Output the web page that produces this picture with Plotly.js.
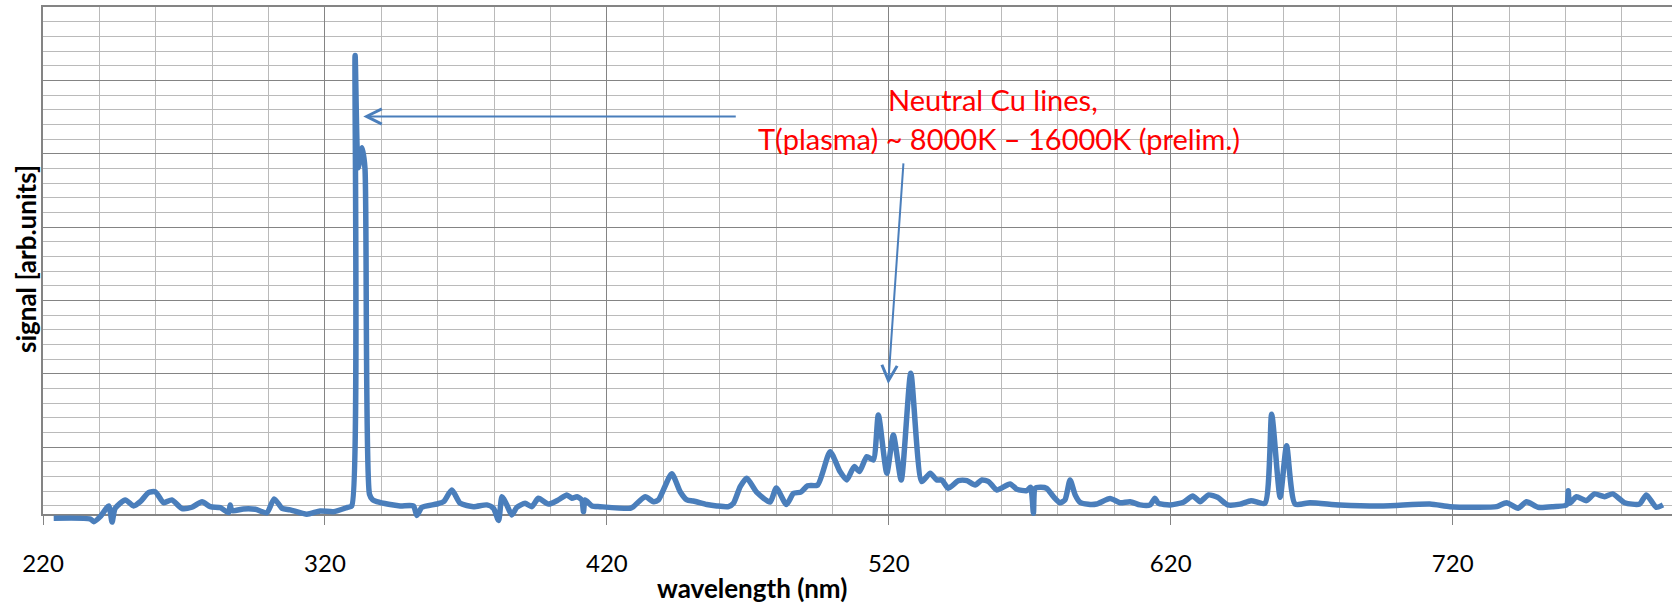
<!DOCTYPE html>
<html>
<head>
<meta charset="utf-8">
<script src="https://cdn.plot.ly/plotly-3.0.1.min.js"></script>
<style>html,body{margin:0;padding:0;background:#fff;}#chart{width:1672px;height:603px;}</style>
</head>
<body>
<div id="chart"></div>
<script>
// Emission spectrum (wavelength in nm, signal in arbitrary units)
const wavelength = [223.8,236.8,238.0,240.3,243.3,244.5,245.6,249.2,252.1,254.5,257.4,259.8,262.8,265.7,269.3,272.8,276.4,279.3,282.9,285.8,286.4,287.0,291.1,295.3,299.4,302.0,304.8,307.7,313.6,318.3,323.1,328.0,329.5,330.7,331.8,333.2,334.2,335.8,337.0,338.4,342.6,346.7,351.4,352.6,354.4,359.7,362.1,365.0,368.0,372.7,377.4,379.8,381.6,382.8,384.5,386.3,388.1,391.0,393.4,395.7,399.3,402.8,405.8,407.6,409.4,411.1,411.7,412.3,414.7,417.6,428.3,429.4,433.6,436.5,438.3,443.0,446.0,448.4,450.7,455.5,459.0,463.1,464.9,467.3,469.6,473.2,477.9,480.1,483.7,486.2,488.8,491.2,494.8,499.2,502.7,505.1,507.7,509.6,512.2,514.5,516.3,519.3,521.6,524.4,527.8,531.7,534.7,537.0,538.8,541.1,544.7,547.7,550.6,553.0,555.4,558.3,563.0,565.4,568.9,570.3,571.3,571.9,573.7,576.0,578.4,580.7,582.5,584.3,586.1,587.8,590.8,593.7,598.5,602.0,605.6,609.1,612.7,614.4,615.6,619.8,624.5,627.8,630.4,633.4,636.6,640.2,644.6,648.5,653.4,655.8,658.8,661.1,664.1,669.4,680.0,695.4,711.9,719.0,728.5,735.6,739.1,743.2,746.2,750.3,755.6,760.4,761.0,761.5,763.9,767.4,770.3,773.9,776.8,781.0,786.3,788.7,792.2,794.6];
const signal = [-4840,-4890,-5070,-4730,-4000,-5100,-4160,-3590,-4000,-3710,-3090,-3030,-3780,-3590,-4180,-4090,-3710,-4050,-4120,-4460,-3930,-4320,-4210,-4230,-4460,-3520,-4160,-4270,-4570,-4340,-4390,-4100,-4000,26700,19050,20400,19000,-3200,-3600,-3710,-3890,-4000,-4000,-4650,-4090,-3870,-3710,-2910,-3820,-4050,-3930,-4160,-5000,-3370,-3930,-4610,-4090,-3820,-4050,-3480,-3870,-3590,-3250,-3480,-3370,-3590,-4390,-3590,-4000,-4050,-4160,-4050,-3370,-3710,-3590,-1800,-3030,-3590,-3660,-3900,-4000,-4050,-3820,-2690,-2110,-3080,-3740,-2770,-3900,-3140,-3060,-2630,-2570,-300,-1660,-2230,-1320,-1660,-640,-870,2200,-1770,840,-2230,5040,-2340,-1770,-2230,-2230,-2790,-2280,-2280,-2570,-2230,-2340,-2910,-2500,-2860,-2960,-2730,-4500,-2800,-2730,-2800,-3370,-3780,-3590,-2230,-3250,-3750,-3890,-3870,-3500,-3780,-3710,-3930,-3930,-3480,-3820,-3930,-3750,-3320,-3710,-3250,-3410,-3930,-3880,-3640,-3820,2250,-3410,100,-3870,-3780,-3930,-4000,-3870,-4050,-4090,-4050,-3780,-4160,-3710,-4090,-4050,-3930,-2960,-3820,-3370,-3640,-3180,-3370,-3180,-3780,-3870,-3250,-4090,-3930];
const xTickStart = 220, xTickStep = 100, xMinorStep = 20;
const xRange = [220, 797.8];
const yRange = [-4550, 30000];
const yMajorStep = 5000, yMinorStep = 1000;

const xTitle = 'wavelength (nm)';
const yTitle = 'signal [arb.units]';
const note1 = 'Neutral Cu lines,';
const note2 = 'T(plasma) ~ 8000K \u2013 16000K (prelim.)';

// geometry
const H = 603, mt = 7, mb = 73, ml = 43, mr = 0;
const plotH = H - mt - mb;            // full height of the trace subplot
const mainBottomPx = 514;             // pixel row of the x axis
const mainDomain0 = (H - mb - mainBottomPx) / plotH;
const unitsPerPx = (yRange[1] - yRange[0]) / (mainBottomPx - mt);
const y2Range = [yRange[1] - plotH * unitsPerPx, yRange[1]];

const major = '#848484', minor = '#bababa', blue = '#4a7ebb';

const traces = [
  {x: [], y: [], xaxis: 'x', yaxis: 'y', type: 'scatter', mode: 'lines', hoverinfo: 'skip', showlegend: false},
  {x: wavelength, y: signal, xaxis: 'x2', yaxis: 'y2', type: 'scatter', mode: 'lines',
   line: {color: blue, width: 5.5, shape: 'spline', smoothing: 0.6}, hoverinfo: 'skip', showlegend: false}
];

const layout = {
  width: 1672, height: 603,
  margin: {l: ml, r: mr, t: mt, b: mb, pad: 0},
  paper_bgcolor: '#ffffff', plot_bgcolor: 'rgba(0,0,0,0)',
  showlegend: false,
  font: {family: 'Lato, sans-serif', color: '#000'},
  xaxis: {
    domain: [0, 1], anchor: 'y', range: xRange, tickmode: 'linear', tick0: xTickStart, dtick: xTickStep,
    ticks: 'outside', ticklen: 9, tickwidth: 1, tickcolor: major,
    showline: true, linecolor: major, linewidth: 2, mirror: true,
    showgrid: true, gridcolor: major, gridwidth: 1, zeroline: false,
    tickfont: {family: 'Lato, sans-serif', size: 24, color: '#000'}, ticklabelstandoff: 18,
    minor: {tickmode: 'linear', tick0: xTickStart, dtick: xMinorStep, showgrid: true, gridcolor: minor, gridwidth: 1, ticks: ''}
  },
  yaxis: {
    domain: [mainDomain0, 1], anchor: 'x', range: yRange, tickmode: 'linear', tick0: 0, dtick: yMajorStep,
    showticklabels: false, ticks: '',
    showline: true, linecolor: major, linewidth: 2,
    showgrid: true, gridcolor: major, gridwidth: 1, zeroline: false,
    minor: {tickmode: 'linear', tick0: 0, dtick: yMinorStep, showgrid: true, gridcolor: minor, gridwidth: 1, ticks: ''}
  },
  xaxis2: {domain: [0, 1], anchor: 'y2', range: xRange, visible: false, fixedrange: true},
  yaxis2: {domain: [0, 1], anchor: 'x2', range: y2Range, visible: false, fixedrange: true},
  annotations: [
    {xref: 'x', yref: 'y', x: 333.6, y: 22540, axref: 'pixel', ayref: 'pixel', ax: 374, ay: 0,
     text: '', showarrow: true, arrowhead: 5, arrowsize: 1.5, arrowwidth: 2, arrowcolor: blue, standoff: 0},
    {xref: 'x', yref: 'y', x: 519.8, y: 4315, axref: 'pixel', ayref: 'pixel', ax: 15.3, ay: -222,
     text: '', showarrow: true, arrowhead: 5, arrowsize: 1.5, arrowwidth: 2, arrowcolor: blue, standoff: 0},
    {xref: 'paper', yref: 'paper', x: (993 - ml) / 1629, y: (H - mb - 100) / plotH, xanchor: 'center', yanchor: 'middle',
     text: note1, showarrow: false, font: {family: 'Lato, sans-serif', size: 29, color: '#ff0000'}},
    {xref: 'paper', yref: 'paper', x: (999 - ml) / 1629, y: (H - mb - 138.3) / plotH, xanchor: 'center', yanchor: 'middle',
     text: note2, showarrow: false, font: {family: 'Lato, sans-serif', size: 29, color: '#ff0000'}},
    {xref: 'paper', yref: 'paper', x: (752 - ml) / 1629, y: (H - mb - 588) / plotH, xanchor: 'center', yanchor: 'middle',
     text: xTitle, showarrow: false, font: {family: 'Lato, sans-serif', size: 26, color: '#000', weight: 'bold'}},
    {xref: 'paper', yref: 'paper', x: (26 - ml) / 1629, y: (H - mb - 259) / plotH, xanchor: 'center', yanchor: 'middle',
     text: yTitle, textangle: -90, showarrow: false, font: {family: 'Lato, sans-serif', size: 26, color: '#000', weight: 'bold'}}
  ]
};

Plotly.newPlot('chart', traces, layout, {displayModeBar: false});
</script>
</body>
</html>
